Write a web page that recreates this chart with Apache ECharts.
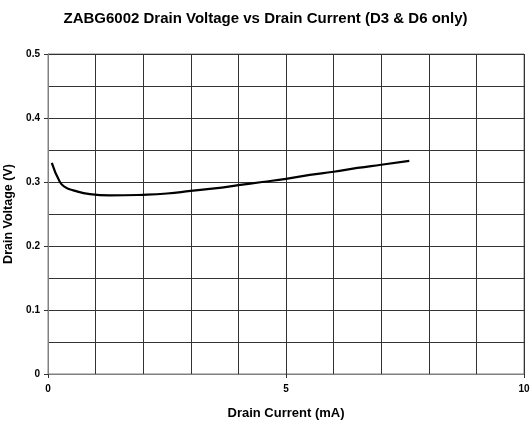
<!DOCTYPE html>
<html>
<head>
<meta charset="utf-8">
<script src="https://cdn.jsdelivr.net/npm/echarts@6/dist/echarts.min.js"></script>
<style>
  body { margin: 0; background: #fff; }
  #chart { width: 531px; height: 423px; }
</style>
</head>
<body>
<div id="chart"></div>
<script>
// drain current (mA) and drain voltage (V)
var current = [0.08, 0.25, 0.36, 0.53, 0.88, 1.3, 2.0, 2.5, 3.0, 3.5, 4.0, 4.5, 5.0, 5.5, 6.0, 6.5, 7.0, 7.59];
var voltage = [0.330, 0.300, 0.292, 0.287, 0.281, 0.279, 0.280, 0.282, 0.286, 0.290, 0.295, 0.300, 0.305, 0.311, 0.316, 0.322, 0.327, 0.333];

var chart = echarts.init(document.getElementById("chart"));
var font = "Liberation Sans, Arial, sans-serif";

var option = {
  animation: false,
  title: {
    text: "ZABG6002 Drain Voltage vs Drain Current (D3 & D6 only)",
    left: "center",
    top: 6,
    textStyle: { fontFamily: font, fontSize: 15, fontWeight: "bold", color: "#000" },
  },
  grid: {
    left: 48,
    right: 7,
    top: 54,
    bottom: 49,
    show: true,
    borderColor: "#808080",
    borderWidth: 1,
    outerBoundsMode: "none",
  },
  xAxis: {
    type: "value",
    min: 0,
    max: 10,
    interval: 5,
    name: "Drain Current (mA)",
    nameLocation: "middle",
    nameGap: 33,
    nameTextStyle: { fontFamily: font, fontSize: 13, fontWeight: "bold", color: "#000" },
    axisLine: { show: true, lineStyle: { color: "#808080" } },
    axisTick: { show: true, length: 4, lineStyle: { color: "#333" } },
    axisLabel: { fontFamily: font, fontSize: 10, fontWeight: "bold", color: "#000", margin: 10 },
    splitLine: { show: true, lineStyle: { color: "#333" } },
    minorTick: { show: false, splitNumber: 5 },
    minorSplitLine: { show: true, lineStyle: { color: "#333" } },
  },
  yAxis: {
    type: "value",
    min: 0,
    max: 0.5,
    interval: 0.1,
    name: "Drain Voltage (V)",
    nameLocation: "middle",
    nameGap: 28,
    nameTextStyle: { fontFamily: font, fontSize: 12.5, fontWeight: "bold", color: "#000" },
    axisLine: { show: true, lineStyle: { color: "#808080" } },
    axisTick: { show: true, length: 4, lineStyle: { color: "#333" } },
    axisLabel: { fontFamily: font, fontSize: 10, fontWeight: "bold", color: "#000", margin: 8 },
    splitLine: { show: true, lineStyle: { color: "#333" } },
    minorTick: { show: false, splitNumber: 2 },
    minorSplitLine: { show: true, lineStyle: { color: "#333" } },
  },
  series: [
    {
      type: "line",
      smooth: true,
      showSymbol: false,
      data: current.map((c, i) => [c, voltage[i]]),
      lineStyle: { color: "#000", width: 2.2 },
    },
  ],
};

option && chart.setOption(option);
</script>
</body>
</html>
